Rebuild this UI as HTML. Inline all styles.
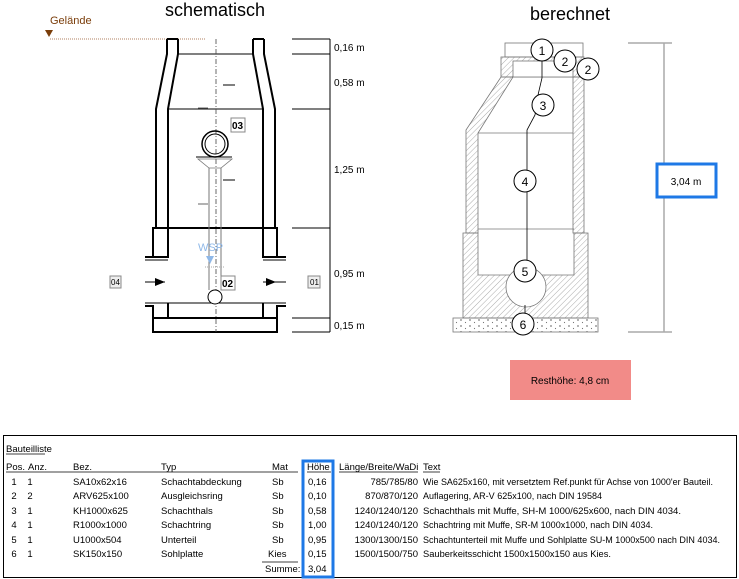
<!DOCTYPE html>
<html><head><meta charset="utf-8"><style>
body{margin:0;width:739px;height:579px;background:#fff;overflow:hidden;font-family:"Liberation Sans",sans-serif}
svg{position:absolute;left:0;top:0}
</style></head><body>
<svg width="739" height="579" viewBox="0 0 739 579" xmlns="http://www.w3.org/2000/svg" font-family="Liberation Sans, sans-serif">
<defs>
<pattern id="h" width="4" height="4" patternUnits="userSpaceOnUse" patternTransform="rotate(45)"><line x1="0" y1="0" x2="0" y2="4" stroke="#888" stroke-width="0.7"/></pattern>
<pattern id="d" width="9" height="6" patternUnits="userSpaceOnUse"><circle cx="2" cy="2" r="0.8" fill="none" stroke="#777" stroke-width="0.5"/><circle cx="6.5" cy="4.5" r="0.6" fill="#777"/></pattern>
</defs>
<!-- schematic -->
<text x="215" y="16" font-size="18" text-anchor="middle">schematisch</text>
<text x="50" y="24" font-size="11" fill="#7a3d0a">Gelände</text>
<polygon points="45,30 53,30 49,37" fill="#7a3d0a"/>
<line x1="50" y1="39" x2="205" y2="39" stroke="#b08060" stroke-dasharray="1,1"/>
<g stroke="#000" stroke-width="2" fill="none">
<polyline points="167,39 167,54 156,109 156,228"/>
<polyline points="178,39 178,54 168,109 168,228"/>
<polyline points="264,39 264,54 275,109 275,228"/>
<polyline points="253,39 253,54 263,109 263,228"/>
<line x1="167" y1="39" x2="178" y2="39"/><line x1="253" y1="39" x2="264" y2="39"/>
<polyline points="145,257 168,257 168,228 153,228 153,257"/>
<polyline points="286,257 263,257 263,228 277,228 277,257"/>
<line x1="153" y1="228" x2="277" y2="228"/>
<polyline points="168,303 168,318 153,318 153,306 145,306"/>
<polyline points="263,303 263,318 277,318 277,306 286,306"/>
<rect x="153" y="318" width="124" height="14"/>
</g>
<g stroke="#000" stroke-width="1">
<line x1="178" y1="54" x2="253" y2="54"/>
<line x1="168" y1="109" x2="263" y2="109"/>
<line x1="145" y1="260" x2="168" y2="260"/><line x1="263" y1="260" x2="286" y2="260"/>
<line x1="145" y1="303" x2="286" y2="303"/>
<line x1="223" y1="85" x2="235" y2="85"/><line x1="198" y1="108" x2="208" y2="108" stroke="#666"/>
<line x1="223" y1="180" x2="235" y2="180"/><line x1="198" y1="204" x2="208" y2="204" stroke="#666"/>
</g>
<line x1="216" y1="39" x2="216" y2="332" stroke="#444" stroke-width="0.8" stroke-dasharray="5,2,1,2"/>
<circle cx="215" cy="144" r="13" fill="none" stroke="#000" stroke-width="1.5"/>
<circle cx="215" cy="144" r="10" fill="none" stroke="#000" stroke-width="1"/>
<line x1="196" y1="157" x2="232" y2="157" stroke="#000"/>
<polygon points="198,159 232,159 221,168 209,168" fill="none" stroke="#777" stroke-width="0.8"/>
<line x1="209" y1="168" x2="209" y2="290" stroke="#777"/><line x1="221" y1="168" x2="221" y2="290" stroke="#777"/>
<circle cx="215" cy="297" r="7" fill="#fff" stroke="#000"/>
<text x="198" y="251" font-size="11" fill="#8fb8e8">WSP</text>
<polygon points="206,256 214,256 210,264" fill="#8fb8e8"/>
<line x1="205" y1="267" x2="225" y2="267" stroke="#aaa" stroke-dasharray="1,1"/>
<g font-size="10" font-weight="bold">
<rect x="231" y="118" width="14" height="14" fill="#fff" stroke="#888"/><text x="232" y="129">03</text>
<rect x="221" y="276" width="14" height="14" fill="#fff" stroke="#888"/><text x="222" y="287">02</text>
</g>
<g font-size="8">
<rect x="110" y="276" width="11" height="12" fill="#eee" stroke="#888"/><text x="111" y="285">04</text>
<rect x="308" y="276" width="12" height="12" fill="#eee" stroke="#888"/><text x="310" y="285">01</text>
</g>
<line x1="145" y1="282" x2="165" y2="282" stroke="#000"/><polygon points="155,278 165,282 155,286"/>
<line x1="263" y1="282" x2="286" y2="282" stroke="#000"/><polygon points="266,278 276,282 266,286"/>
<g stroke="#000" stroke-width="1">
<line x1="330" y1="39" x2="330" y2="332"/>
<line x1="292" y1="39" x2="330" y2="39"/><line x1="292" y1="54" x2="330" y2="54"/>
<line x1="292" y1="109" x2="330" y2="109"/><line x1="292" y1="228" x2="330" y2="228"/>
<line x1="292" y1="318" x2="330" y2="318"/><line x1="292" y1="332" x2="330" y2="332"/>
</g>
<g font-size="10">
<text x="334" y="51">0,16 m</text><text x="334" y="86">0,58 m</text><text x="334" y="173">1,25 m</text>
<text x="334" y="277">0,95 m</text><text x="334" y="329">0,15 m</text>
</g>
<!-- berechnet -->
<text x="570" y="20" font-size="18" text-anchor="middle">berechnet</text>
<g stroke="#777" stroke-width="0.8">
<rect x="505" y="43" width="78" height="14" fill="#fff"/>
<rect x="501" y="57" width="83" height="20" fill="url(#h)"/>
<rect x="513" y="61" width="60" height="16" fill="#fff"/>
<polygon points="501,77 513,77 478,133 478,233 466,233 466,130" fill="url(#h)"/>
<rect x="573" y="77" width="11" height="156" fill="url(#h)"/>
<line x1="478" y1="133" x2="573" y2="133"/>
<polygon points="463,233 478,233 478,275 574,275 574,233 588,233 588,318 463,318" fill="url(#h)"/>
<line x1="478" y1="229" x2="574" y2="229"/>
<circle cx="526" cy="287" r="20" fill="#fff"/>
<rect x="453" y="318" width="145" height="14" fill="url(#d)"/>
</g>
<g stroke="#000" stroke-width="0.8" fill="none">
<polyline points="542,61 542,78 538,95 535,115 527,130 527,265"/>
<line x1="525" y1="305" x2="525" y2="313"/>
</g>
<g font-size="12" text-anchor="middle">
<circle cx="542" cy="50" r="11" fill="#fff" stroke="#000"/><text x="542" y="55">1</text>
<circle cx="565" cy="61" r="11" fill="#fff" stroke="#000"/><text x="565" y="66">2</text>
<circle cx="588" cy="69" r="11" fill="#fff" stroke="#000"/><text x="588" y="74">2</text>
<circle cx="543" cy="105" r="11" fill="#fff" stroke="#000"/><text x="543" y="110">3</text>
<circle cx="525" cy="181" r="11" fill="#fff" stroke="#000"/><text x="525" y="186">4</text>
<circle cx="525" cy="271" r="11" fill="#fff" stroke="#000"/><text x="525" y="276">5</text>
<circle cx="523" cy="324" r="11" fill="#fff" stroke="#000"/><text x="523" y="329">6</text>
</g>
<g stroke="#aaa" stroke-width="1.5">
<line x1="664" y1="43" x2="664" y2="332"/>
<line x1="628" y1="43" x2="672" y2="43"/><line x1="628" y1="332" x2="672" y2="332"/>
</g>
<rect x="657" y="164" width="59" height="33" fill="#fff" stroke="#1e78e6" stroke-width="3"/>
<text x="686" y="185" font-size="10" text-anchor="middle">3,04 m</text>
<rect x="510" y="360" width="121" height="40" fill="#f28b88"/>
<text x="570" y="384" font-size="10" text-anchor="middle">Resthöhe: 4,8 cm</text>
<!-- table -->
<rect x="3.5" y="435.5" width="733" height="142" fill="none" stroke="#000"/>
<g font-size="9.5">
<text x="6" y="452">Bauteilliste</text>
<line x1="6" y1="454" x2="45" y2="454" stroke="#000" stroke-width="0.7"/>
<text x="6" y="470">Pos.</text><text x="28" y="470">Anz.</text><text x="73" y="470">Bez.</text><text x="161" y="470">Typ</text>
<text x="272" y="470">Mat</text><text x="307" y="470">Höhe</text><text x="339" y="470">Länge/Breite/WaDi</text><text x="423" y="470">Text</text>
<g stroke="#000" stroke-width="0.7">
<line x1="6" y1="472" x2="298" y2="472"/><line x1="307" y1="472" x2="331" y2="472"/>
<line x1="339" y1="472" x2="418" y2="472"/><line x1="423" y1="472" x2="440" y2="472"/>
<line x1="262" y1="562" x2="298" y2="562"/>
</g>
<g text-anchor="middle">
<text x="14" y="485">1</text><text x="30" y="485">1</text>
<text x="14" y="499">2</text><text x="30" y="499">2</text>
<text x="14" y="514">3</text><text x="30" y="514">1</text>
<text x="14" y="528">4</text><text x="30" y="528">1</text>
<text x="14" y="543">5</text><text x="30" y="543">1</text>
<text x="14" y="557">6</text><text x="30" y="557">1</text>
</g>
<text x="73" y="485">SA10x62x16</text><text x="73" y="499">ARV625x100</text><text x="73" y="514">KH1000x625</text>
<text x="73" y="528">R1000x1000</text><text x="73" y="543">U1000x504</text><text x="73" y="557">SK150x150</text>
<text x="161" y="485">Schachtabdeckung</text><text x="161" y="499">Ausgleichsring</text><text x="161" y="514">Schachthals</text>
<text x="161" y="528">Schachtring</text><text x="161" y="543">Unterteil</text><text x="161" y="557">Sohlplatte</text>
<text x="272" y="485">Sb</text><text x="272" y="499">Sb</text><text x="272" y="514">Sb</text><text x="272" y="528">Sb</text><text x="272" y="543">Sb</text><text x="268" y="557">Kies</text>
<text x="308" y="485">0,16</text><text x="308" y="499">0,10</text><text x="308" y="514">0,58</text><text x="308" y="528">1,00</text><text x="308" y="543">0,95</text><text x="308" y="557">0,15</text>
<text x="265" y="572">Summe:</text><text x="308" y="572">3,04</text>
<g text-anchor="end">
<text x="418" y="485">785/785/80</text><text x="418" y="499">870/870/120</text><text x="418" y="514">1240/1240/120</text>
<text x="418" y="528">1240/1240/120</text><text x="418" y="543">1300/1300/150</text><text x="418" y="557">1500/1500/750</text>
</g>
<text x="423" y="485" textLength="290" lengthAdjust="spacingAndGlyphs">Wie SA625x160, mit versetztem Ref.punkt für Achse von 1000'er Bauteil.</text>
<text x="423" y="499" textLength="179" lengthAdjust="spacingAndGlyphs">Auflagering, AR-V 625x100, nach DIN 19584</text>
<text x="423" y="514" textLength="258" lengthAdjust="spacingAndGlyphs">Schachthals mit Muffe, SH-M 1000/625x600, nach DIN 4034.</text>
<text x="423" y="528" textLength="230" lengthAdjust="spacingAndGlyphs">Schachtring mit Muffe, SR-M 1000x1000, nach DIN 4034.</text>
<text x="423" y="543" textLength="297" lengthAdjust="spacingAndGlyphs">Schachtunterteil mit Muffe und Sohlplatte SU-M 1000x500 nach DIN 4034.</text>
<text x="423" y="557" textLength="188" lengthAdjust="spacingAndGlyphs">Sauberkeitsschicht 1500x1500x150 aus Kies.</text>
</g>
<rect x="303" y="461" width="30" height="116" fill="none" stroke="#1e78e6" stroke-width="3"/>
</svg>
</body></html>
